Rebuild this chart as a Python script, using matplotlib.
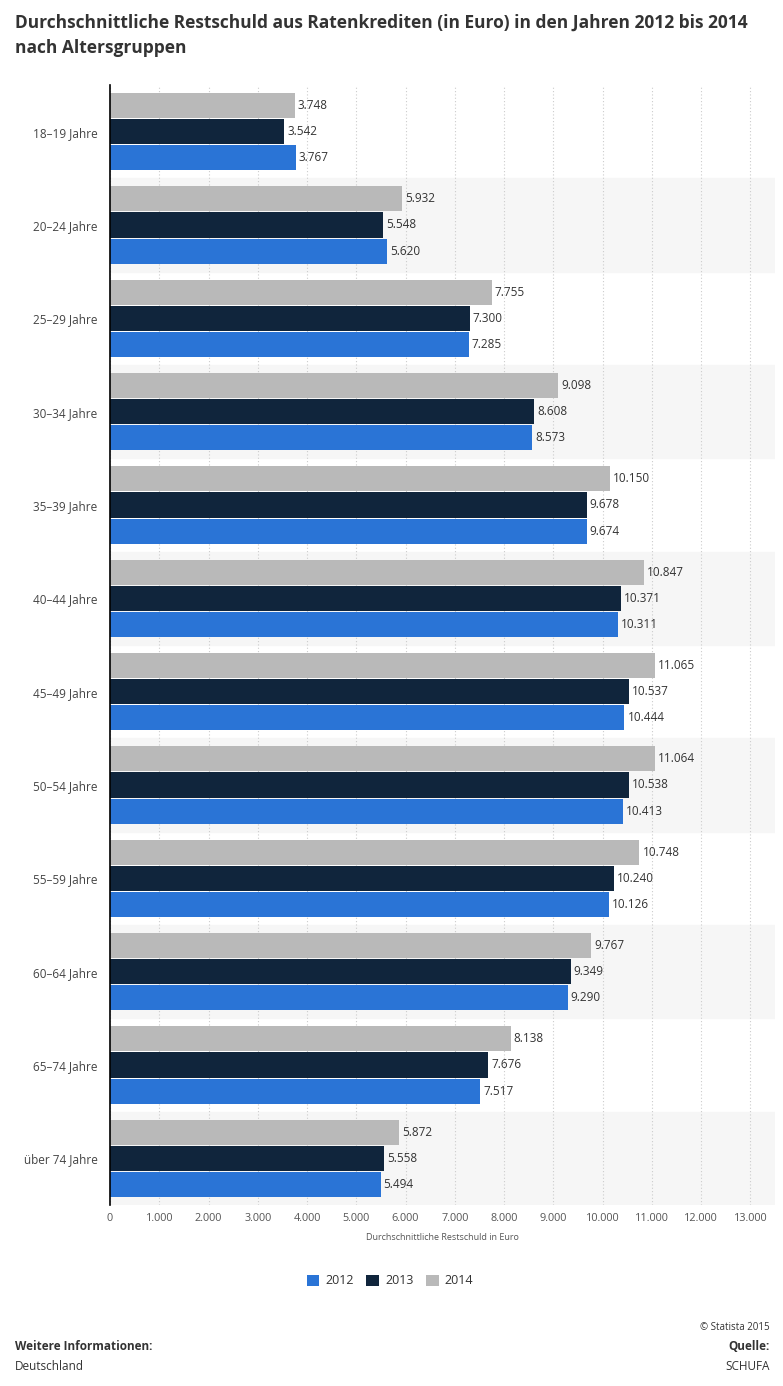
import matplotlib.pyplot as plt
import numpy as np

groups = ["18–19 Jahre", "20–24 Jahre", "25–29 Jahre", "30–34 Jahre", "35–39 Jahre",
          "40–44 Jahre", "45–49 Jahre", "50–54 Jahre", "55–59 Jahre", "60–64 Jahre",
          "65–74 Jahre", "über 74 Jahre"]
v2012 = [3767, 5620, 7285, 8573, 9674, 10311, 10444, 10413, 10126, 9290, 7517, 5494]
v2013 = [3542, 5548, 7300, 8608, 9678, 10371, 10537, 10538, 10240, 9349, 7676, 5558]
v2014 = [3748, 5932, 7755, 9098, 10150, 10847, 11065, 11064, 10748, 9767, 8138, 5872]
years = ["2012", "2013", "2014"]
colors = ["#2a74d6", "#10253c", "#b9b9b9"]

plt.rcParams['font.family'] = ['Open Sans', 'DejaVu Sans']

fig = plt.figure(figsize=(7.83, 13.86), dpi=100)
ax = fig.add_axes([110/783, 1 - 1205/1386, 665/783, 1120/1386])

n = len(groups)
y = np.arange(n)
h = 0.27
fmt = lambda v: f"{v:,}".replace(",", ".")

# Streifen im Hintergrund
for i in range(n):
    if i % 2 == 1:
        ax.axhspan(i - 0.5, i + 0.5, color="#f6f6f6", zorder=0)

series = [v2012, v2013, v2014]
offsets = [h + 0.01, 0, -(h + 0.01)]
for vals, off, c, lab in zip(series, offsets, colors, years):
    bars = ax.barh(y + off, vals, height=h, color=c, label=lab, zorder=2)
    for b, v in zip(bars, vals):
        ax.text(v + 60, b.get_y() + h / 2, fmt(v), va="center", ha="left",
                fontsize=8.5, color="#333333", zorder=3)

ax.set_ylim(n - 0.5, -0.5)
ax.set_xlim(0, 13500)
ax.set_xticks(np.arange(0, 14000, 1000))
ax.set_xticklabels([fmt(t) for t in range(0, 14000, 1000)], fontsize=7.8, color="#555555")
ax.set_yticks(y)
ax.set_yticklabels(groups, fontsize=8.5, color="#444444")
ax.tick_params(axis="y", length=0, pad=9)
ax.tick_params(axis="x", length=0, pad=6)
ax.grid(axis="x", color="#cccccc", linestyle=(0, (1, 2)), linewidth=0.8, zorder=1)
ax.set_axisbelow(True)
for s in ["top", "right", "bottom"]:
    ax.spines[s].set_visible(False)
ax.spines["left"].set_color("black")
ax.spines["left"].set_linewidth(1.2)
ax.set_xlabel("Durchschnittliche Restschuld in Euro", fontsize=6.5, color="#555555", labelpad=6)

handles, labels = ax.get_legend_handles_labels()
fig.legend(handles, labels, loc="center", bbox_to_anchor=(390/783, 1 - 1281/1386), ncol=3,
           frameon=False, fontsize=9, handlelength=1.0, handleheight=1.0,
           columnspacing=1.0, handletextpad=0.5, labelcolor="#333333")

fig.text(15/783, 1 - 23/1386, "Durchschnittliche Restschuld aus Ratenkrediten (in Euro) in den Jahren 2012 bis 2014",
         fontsize=12.5, fontweight="bold", color="#333333", va="center", ha="left")
fig.text(15/783, 1 - 48/1386, "nach Altersgruppen",
         fontsize=12.5, fontweight="bold", color="#333333", va="center", ha="left")

fig.text(770/783, 1 - 1327/1386, "© Statista 2015", fontsize=7, color="#333333", ha="right", va="center")
fig.text(15/783, 1 - 1346/1386, "Weitere Informationen:", fontsize=8.5, fontweight="bold", color="#333333", ha="left", va="center")
fig.text(770/783, 1 - 1346/1386, "Quelle:", fontsize=8.5, fontweight="bold", color="#333333", ha="right", va="center")
fig.text(15/783, 1 - 1367/1386, "Deutschland", fontsize=8.5, color="#333333", ha="left", va="center")
fig.text(770/783, 1 - 1367/1386, "SCHUFA", fontsize=8.5, color="#333333", ha="right", va="center")

fig.savefig("out.png", dpi=100)
